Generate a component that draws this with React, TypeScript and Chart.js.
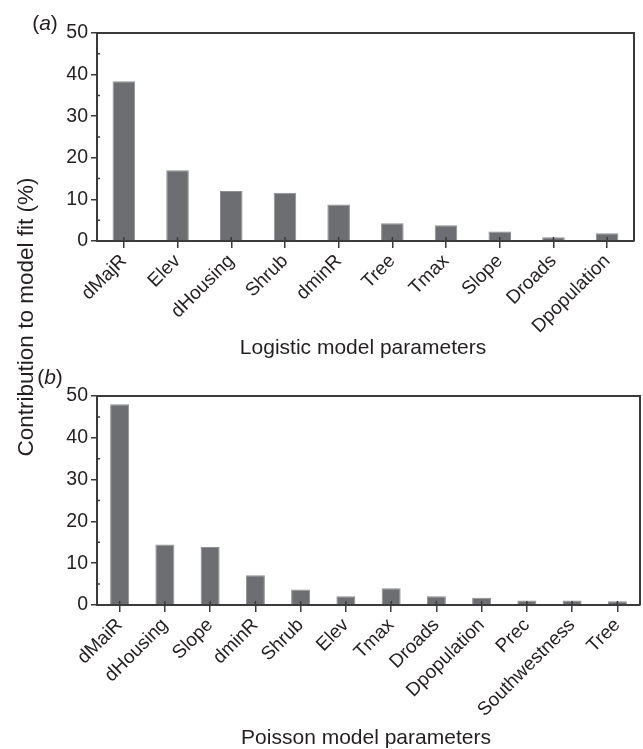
import React, { useEffect, useRef } from "react";
import { Chart, registerables } from "chart.js";

Chart.register(...registerables);

const logisticLabels = ["dMajR", "Elev", "dHousing", "Shrub", "dminR", "Tree", "Tmax", "Slope", "Droads", "Dpopulation"];
const logisticValues = [38.4, 17.0, 12.0, 11.6, 8.8, 4.25, 3.8, 2.3, 0.9, 1.85];

const poissonLabels = ["dMaiR", "dHousing", "Slope", "dminR", "Shrub", "Elev", "Tmax", "Droads", "Dpopulation", "Prec", "Southwestness", "Tree"];
const poissonValues = [48.0, 14.5, 13.9, 7.1, 3.7, 2.1, 4.0, 2.1, 1.75, 1.1, 1.1, 0.9];

const yTicksMajor = [0, 10, 20, 30, 40, 50];
const yTicksMinor = [5, 15, 25, 35, 45];

const FONT = "'Liberation Sans', Arial, Helvetica, sans-serif";
const TEXT = "#231f20";
const AXIS = "#3a3a3a";
const BAR = "#6d6e71";

const framePlugin = {
  id: "frame",
  afterDraw(chart: any) {
    const { ctx, chartArea } = chart;
    const ys = chart.scales.y;
    const xs = chart.scales.x;
    ctx.save();
    ctx.strokeStyle = AXIS;
    ctx.lineWidth = 2;
    ctx.beginPath();
    ctx.moveTo(chartArea.left, chartArea.top);
    ctx.lineTo(chartArea.right, chartArea.top);
    ctx.lineTo(chartArea.right, chartArea.bottom);
    ctx.stroke();
    ctx.lineWidth = 1.5;
    ctx.beginPath();
    for (const v of yTicksMinor) {
      const y = ys.getPixelForValue(v);
      ctx.moveTo(chartArea.left, y);
      ctx.lineTo(chartArea.left + 3, y);
    }
    const n = chart.data.labels.length;
    for (let i = 0; i < n; i++) {
      const x = xs.getPixelForTick(i);
      ctx.moveTo(x, chartArea.bottom);
      ctx.lineTo(x, chartArea.bottom - 4);
    }
    ctx.stroke();
    ctx.restore();
  },
};

type PanelProps = {
  labels: string[];
  values: number[];
  top: number;
  height: number;
  padTop: number;
  padRight: number;
  xHeight: number;
};

function Panel({ labels, values, top, height, padTop, padRight, xHeight }: PanelProps) {
  const ref = useRef<HTMLCanvasElement>(null);
  useEffect(() => {
    if (!ref.current) return;
    const chart = new Chart(ref.current, {
      type: "bar",
      data: {
        labels,
        datasets: [
          {
            data: values,
            backgroundColor: BAR,
            borderColor: "#8e8f92",
            borderWidth: 1,
            barPercentage: 0.42,
            categoryPercentage: 1,
          },
        ],
      },
      options: {
        animation: false,
        responsive: false,
        maintainAspectRatio: false,
        layout: { padding: { top: padTop, right: padRight, bottom: 0, left: 0 } },
        plugins: { legend: { display: false }, tooltip: { enabled: false } },
        scales: {
          x: {
            type: "category",
            offset: true,
            grid: {
              display: true,
              drawOnChartArea: false,
              offset: false,
              tickLength: 7,
              color: AXIS,
              lineWidth: 1.5,
            },
            border: { display: true, color: AXIS, width: 2 },
            ticks: {
              minRotation: 45,
              maxRotation: 45,
              autoSkip: false,
              padding: 2,
              color: TEXT,
              font: { family: FONT, size: 19 },
            },
            afterFit: (s: any) => {
              s.height = xHeight;
            },
          },
          y: {
            min: 0,
            max: 50,
            afterBuildTicks: (s: any) => {
              s.ticks = yTicksMajor.map((v) => ({ value: v }));
            },
            grid: {
              display: true,
              drawOnChartArea: false,
              tickLength: 6,
              color: AXIS,
              lineWidth: 1.5,
            },
            border: { display: true, color: AXIS, width: 2 },
            ticks: {
              padding: 3,
              color: TEXT,
              font: { family: FONT, size: 19.5 },
            },
            afterFit: (s: any) => {
              s.width = 97;
            },
          },
        },
      },
      plugins: [framePlugin],
    } as any);
    return () => chart.destroy();
  }, []);
  return (
    <canvas
      ref={ref}
      width={643}
      height={height}
      style={{ position: "absolute", left: 0, top, width: 643, height }}
    />
  );
}

const textStyle: React.CSSProperties = {
  position: "absolute",
  fontFamily: FONT,
  color: TEXT,
  whiteSpace: "nowrap",
  transform: "translate(-50%, -50%)",
  lineHeight: 1,
};

export default function App() {
  return (
    <div style={{ position: "absolute", left: 0, top: 0, width: 643, height: 749, background: "#fff", overflow: "hidden" }}>
      <Panel labels={logisticLabels} values={logisticValues} top={0} height={380} padTop={33} padRight={9} xHeight={139} />
      <Panel labels={poissonLabels} values={poissonValues} top={380} height={369} padTop={16} padRight={3} xHeight={144} />
      <div style={{ ...textStyle, left: 45, top: 22, fontSize: 21 }}>
        (<i>a</i>)
      </div>
      <div style={{ ...textStyle, left: 50, top: 376, fontSize: 21 }}>
        (<i>b</i>)
      </div>
      <div style={{ ...textStyle, left: 363, top: 346, fontSize: 21 }}>Logistic model parameters</div>
      <div style={{ ...textStyle, left: 366, top: 736, fontSize: 21 }}>Poisson model parameters</div>
      <div style={{ ...textStyle, left: 26, top: 317, fontSize: 22.5, transform: "translate(-50%, -50%) rotate(-90deg)" }}>
        Contribution to model fit (%)
      </div>
    </div>
  );
}
